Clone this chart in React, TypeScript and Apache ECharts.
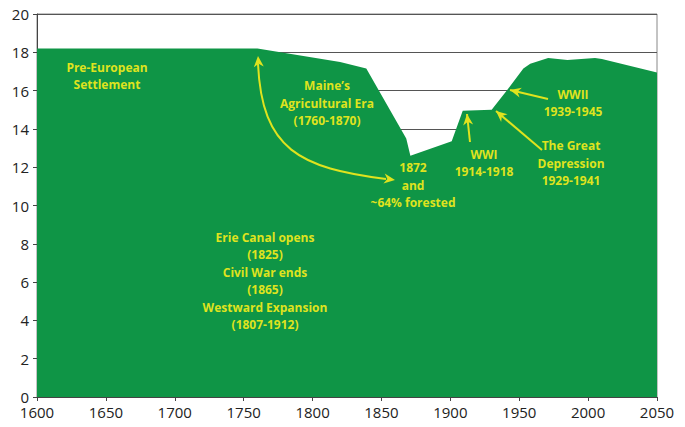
import React, { useEffect, useRef } from "react";
import * as echarts from "echarts";

const years = [1600, 1760, 1820, 1839, 1868, 1871, 1901, 1909, 1930, 1941, 1953, 1958, 1971, 1985, 2005, 2010, 2050];
const forest = [18.2, 18.2, 17.5, 17.15, 13.5, 12.6, 13.35, 14.95, 15.0, 16.0, 17.15, 17.4, 17.7, 17.6, 17.7, 17.65, 16.95];
const xTicks = { min: 1600, max: 2050, interval: 50 };
const yTicks = { min: 0, max: 20, interval: 2 };

const labels: { text: string; x: number; y: number }[] = [
  { text: "Pre-European\nSettlement", x: 107, y: 76 },
  { text: "Maine\u2019s\nAgricultural Era\n(1760-1870)", x: 327, y: 103 },
  { text: "1872\nand\n~64% forested", x: 413, y: 185 },
  { text: "WWI\n1914-1918", x: 484, y: 163 },
  { text: "WWII\n1939-1945", x: 573, y: 103 },
  { text: "The Great\nDepression\n1929-1941", x: 571, y: 163 },
  { text: "Erie Canal opens\n(1825)\nCivil War ends\n(1865)\nWestward Expansion\n(1807-1912)", x: 265, y: 281 },
];

const YEL = "#dfe31e";
const GREEN = "#0f9546";

function head(tx: number, ty: number, fx: number, fy: number) {
  const dx = tx - fx, dy = ty - fy;
  const L = Math.hypot(dx, dy);
  const ux = dx / L, uy = dy / L;
  const len = 11, w = 5;
  const bx = tx - ux * len, by = ty - uy * len;
  const ix = tx - ux * len * 0.7, iy = ty - uy * len * 0.7;
  return {
    type: "polygon",
    z: 100,
    shape: {
      points: [
        [tx, ty],
        [bx - uy * w, by + ux * w],
        [ix, iy],
        [bx + uy * w, by - ux * w],
      ],
    },
    style: { fill: YEL },
  };
}

function arrow(fx: number, fy: number, tx: number, ty: number) {
  return [
    { type: "line", z: 100, shape: { x1: fx, y1: fy, x2: tx, y2: ty }, style: { stroke: YEL, lineWidth: 2 } },
    head(tx, ty, fx, fy),
  ];
}

export default function App() {
  const ref = useRef<HTMLDivElement>(null);
  useEffect(() => {
    const chart = echarts.init(ref.current!, null, { renderer: "svg" });
    const data = years.map((y, i) => [y, forest[i]]);
    const graphics: any[] = [];
    labels.forEach((l) =>
      graphics.push({
        type: "text",
        z: 100,
        x: l.x,
        y: l.y,
        style: {
          text: l.text,
          fill: YEL,
          font: "bold 12px 'Open Sans', sans-serif",
          align: "center",
          verticalAlign: "middle",
          lineHeight: 17.5,
        },
      })
    );
    graphics.push({
      type: "bezierCurve",
      z: 100,
      shape: { x1: 258, y1: 64, cpx1: 262, cpy1: 150, cpx2: 300, cpy2: 168, x2: 386, y2: 179 },
      style: { stroke: YEL, lineWidth: 2, fill: "none" },
    });
    graphics.push(head(258, 56, 259, 70));
    graphics.push(head(395, 180, 380, 178));
    graphics.push(...arrow(470, 142, 467, 114));
    graphics.push(...arrow(542, 150, 496, 111));
    graphics.push(...arrow(548, 99, 510, 90));

    const tickFont = "'Liberation Sans Narrow', 'Open Sans', sans-serif";
    chart.setOption({
      animation: false,
      grid: { left: 37, right: 28, top: 14, bottom: 30, show: true, borderColor: "#888", borderWidth: 1, z: 0 },
      xAxis: {
        type: "value",
        min: xTicks.min,
        max: xTicks.max,
        interval: xTicks.interval,
        axisLine: { lineStyle: { color: "#444" } },
        axisTick: { show: true, length: 4, lineStyle: { color: "#444" } },
        axisLabel: { color: "#222", fontSize: 15, fontFamily: tickFont, margin: 7, formatter: (v: number) => String(v) },
        splitLine: { show: false },
      },
      yAxis: {
        type: "value",
        min: yTicks.min,
        max: yTicks.max,
        interval: yTicks.interval,
        axisLine: { show: true, lineStyle: { color: "#444" } },
        axisTick: { show: true, length: 4, lineStyle: { color: "#444" } },
        axisLabel: { color: "#222", fontSize: 15, fontFamily: tickFont, margin: 8 },
        splitLine: { show: true, lineStyle: { color: "#555", width: 1 } },
      },
      series: [
        {
          type: "line",
          data,
          symbol: "none",
          lineStyle: { width: 0 },
          areaStyle: { color: GREEN, opacity: 1 },
          z: 5,
        },
      ],
      graphic: graphics,
    });
    return () => chart.dispose();
  }, []);
  return <div ref={ref} style={{ width: 685, height: 427, position: "absolute", left: 0, top: 0 }} />;
}
